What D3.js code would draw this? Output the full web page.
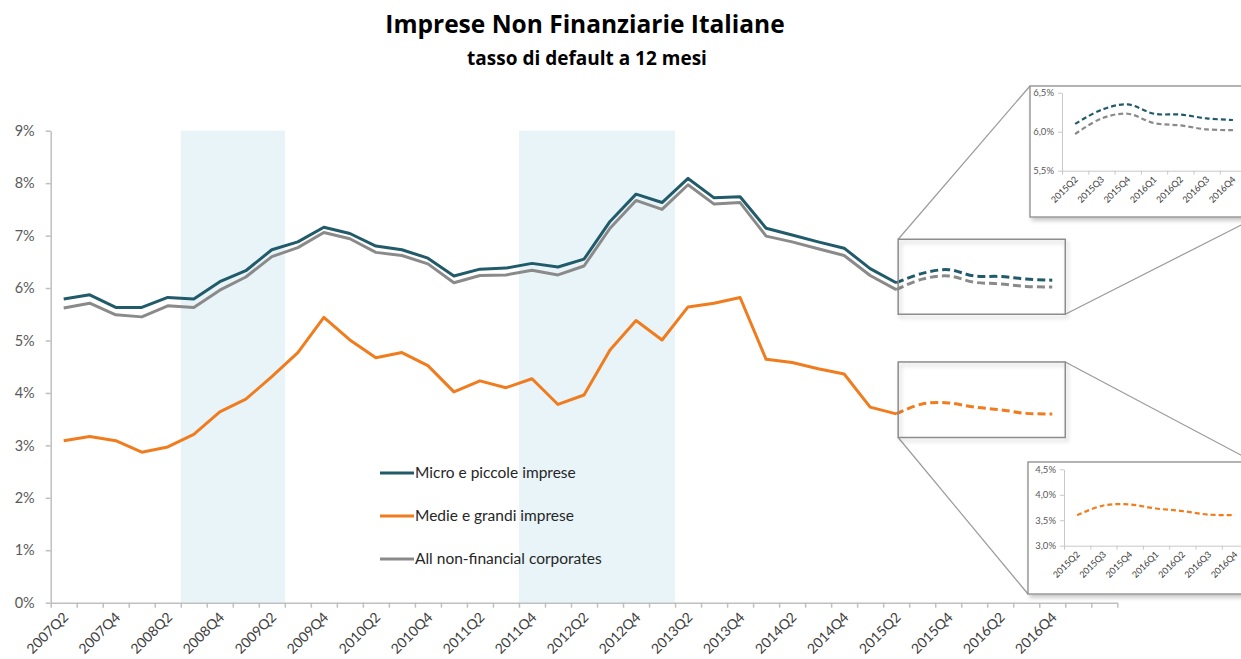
<!DOCTYPE html>
<html>
<head>
<meta charset="utf-8">
<script src="https://cdn.jsdelivr.net/npm/d3@7"></script>
<style>
  html, body { margin: 0; padding: 0; background: #fff; }
  svg { display: block; font-family: Lato, "Open Sans", sans-serif; }
</style>
</head>
<body>
<svg id="chart" width="1241" height="659"></svg>
<script>
// ---- data ----------------------------------------------------------------
// quarterly categories on the main axis (two trailing empty slots)
const quarters = [
  "2007Q2","2007Q3","2007Q4","2008Q1","2008Q2","2008Q3","2008Q4","2009Q1",
  "2009Q2","2009Q3","2009Q4","2010Q1","2010Q2","2010Q3","2010Q4","2011Q1",
  "2011Q2","2011Q3","2011Q4","2012Q1","2012Q2","2012Q3","2012Q4","2013Q1",
  "2013Q2","2013Q3","2013Q4","2014Q1","2014Q2","2014Q3","2014Q4","2015Q1",
  "2015Q2","2015Q3","2015Q4","2016Q1","2016Q2","2016Q3","2016Q4","",""
];

// observed 12-month default rates (%), 2007Q2 .. 2015Q2
const microObserved = [5.79,5.87,5.63,5.63,5.82,5.79,6.12,6.33,6.73,6.88,7.16,7.04,6.80,6.73,6.57,6.23,6.36,6.38,6.47,6.40,6.55,7.27,7.79,7.63,8.09,7.72,7.74,7.14,7.01,6.88,6.76,6.37,6.10];
const medieObserved = [3.09,3.17,3.09,2.87,2.97,3.21,3.64,3.88,4.31,4.77,5.44,5.01,4.67,4.77,4.52,4.02,4.23,4.10,4.27,3.78,3.96,4.82,5.38,5.01,5.64,5.71,5.82,4.64,4.58,4.46,4.36,3.73,3.60];
const allObserved   = [5.62,5.71,5.49,5.45,5.66,5.63,5.96,6.21,6.60,6.77,7.06,6.94,6.68,6.62,6.46,6.10,6.24,6.25,6.34,6.25,6.42,7.14,7.67,7.50,7.97,7.60,7.63,6.99,6.88,6.75,6.62,6.24,5.97];

// projections (%), 2015Q2 .. 2016Q4
const forecastQuarters = ["2015Q2","2015Q3","2015Q4","2016Q1","2016Q2","2016Q3","2016Q4"];
const microForecast = [6.10,6.28,6.35,6.23,6.22,6.17,6.15];
const medieForecast = [3.60,3.79,3.81,3.73,3.68,3.61,3.60];
const allForecast   = [5.97,6.17,6.23,6.11,6.08,6.03,6.02];

// shaded recession periods (first and last quarter covered)
const recessions = [["2008Q3","2009Q2"],["2011Q4","2013Q1"]];

// axis ticks
const yTicks = [0,1,2,3,4,5,6,7,8,9];
const insetTopTicks = [5.5,6.0,6.5];
const insetBottomTicks = [3.0,3.5,4.0,4.5];

const seriesNames = ["Micro e piccole imprese","Medie e grandi imprese","All non-financial corporates"];
const colors = { micro: "#215b6a", medie: "#f07c1e", all: "#8a8a8a" };

// ---- layout ---------------------------------------------------------------
const svg = d3.select("#chart");
const plot = { left: 50.7, right: 1117.3, top: 130.7, bottom: 602.7 };

const x = d3.scaleBand().domain(d3.range(quarters.length)).range([plot.left, plot.right]).padding(0);
const bw = x.bandwidth();
const cx = i => x(i) + bw / 2;
const y = d3.scaleLinear().domain([0, 9]).range([plot.bottom, plot.top]);
const forecastStart = quarters.indexOf(forecastQuarters[0]);

const defs = svg.append("defs");
const shadow = defs.append("filter").attr("id", "shadow")
  .attr("x", "-10%").attr("y", "-10%").attr("width", "130%").attr("height", "140%");
shadow.append("feDropShadow").attr("dx", 2).attr("dy", 3).attr("stdDeviation", 2.2)
  .attr("flood-color", "#000").attr("flood-opacity", 0.22);

// ---- titles -----------------------------------------------------------------
svg.append("text").attr("x", 585).attr("y", 33).attr("text-anchor", "middle")
  .attr("font-family", "'Open Sans', sans-serif")
  .attr("font-size", 24.5).attr("font-weight", 700).attr("fill", "#000")
  .text("Imprese Non Finanziarie Italiane");
svg.append("text").attr("x", 587).attr("y", 65).attr("text-anchor", "middle")
  .attr("font-family", "'Open Sans', sans-serif")
  .attr("font-size", 19).attr("font-weight", 700).attr("fill", "#000")
  .text("tasso di default a 12 mesi");

// ---- recession shading ------------------------------------------------------
svg.append("g").selectAll("rect").data(recessions).join("rect")
  .attr("x", d => x(quarters.indexOf(d[0])))
  .attr("width", d => x(quarters.indexOf(d[1])) + bw - x(quarters.indexOf(d[0])))
  .attr("y", plot.top).attr("height", plot.bottom - plot.top)
  .attr("fill", "#e8f4f8");

// ---- axes -------------------------------------------------------------------
const yAxis = svg.append("g").attr("transform", `translate(${plot.left},0)`)
  .call(d3.axisLeft(y).tickValues(yTicks).tickFormat(d => d + "%").tickSize(5).tickSizeOuter(0));
yAxis.select(".domain").attr("stroke", "#bfbfbf").attr("stroke-width", 1.5);
yAxis.selectAll(".tick line").attr("stroke", "#bfbfbf").attr("stroke-width", 1.5);
yAxis.selectAll(".tick text").attr("font-size", 14.5).attr("fill", "#595959")
  .attr("font-family", "Lato, sans-serif").attr("x", -16);

// boundary ticks between quarters
const xEdge = d3.scaleLinear().domain([0, quarters.length]).range([plot.left, plot.right]);
const xAxis = svg.append("g").attr("transform", `translate(0,${plot.bottom})`)
  .call(d3.axisBottom(xEdge).tickValues(d3.range(quarters.length + 1)).tickFormat("").tickSize(5).tickSizeOuter(0));
xAxis.select(".domain").attr("stroke", "#bfbfbf").attr("stroke-width", 1.5);
xAxis.selectAll(".tick line").attr("stroke", "#bfbfbf").attr("stroke-width", 1.5);

// every second quarter is labelled
svg.append("g").selectAll("text")
  .data(quarters.map((q, i) => ({ q, i })).filter(d => d.q && d.i % 2 === 0))
  .join("text")
  .attr("transform", d => `translate(${cx(d.i) + 2},${plot.bottom + 12}) rotate(-45)`)
  .attr("text-anchor", "end").attr("dy", "0.35em")
  .attr("font-size", 14).attr("fill", "#404040")
  .text(d => d.q);

// ---- series -----------------------------------------------------------------
const solid = d3.line().x((d, i) => cx(i)).y(d => y(d));
const smooth = d3.line().x((d, i) => cx(forecastStart + i)).y(d => y(d)).curve(d3.curveCatmullRom.alpha(0.5));

const series = [
  { key: "all",   obs: allObserved,   fc: allForecast },
  { key: "medie", obs: medieObserved, fc: medieForecast },
  { key: "micro", obs: microObserved, fc: microForecast }
];
const lines = svg.append("g").attr("fill", "none").attr("stroke-linejoin", "round");
series.forEach(s => {
  lines.append("path").attr("d", solid(s.obs)).attr("stroke", colors[s.key]).attr("stroke-width", 3);
  lines.append("path").attr("d", smooth(s.fc)).attr("stroke", colors[s.key]).attr("stroke-width", 3)
    .attr("stroke-dasharray", "8,4");
});

// ---- legend -----------------------------------------------------------------
const legend = svg.append("g");
[["micro", 473], ["medie", 516], ["all", 559]].forEach(([k, ly], i) => {
  legend.append("line").attr("x1", 380).attr("x2", 414).attr("y1", ly).attr("y2", ly)
    .attr("stroke", colors[k]).attr("stroke-width", 3);
  legend.append("text").attr("x", 415).attr("y", ly).attr("dy", "0.35em")
    .attr("font-size", 15.5).attr("fill", "#262626").text(seriesNames[i]);
});

// ---- zoom callouts ----------------------------------------------------------
const boxLeft = cx(forecastStart) + 2;
const boxRight = x(forecastStart + forecastQuarters.length - 1) + bw;
const callouts = [
  { lo: 5.5, hi: 6.93, inset: { x0: 1030, y0: 86, x1: 1257, y1: 217, axisX: 1062, top: 92.7, bottom: 170.7 },
    ticks: insetTopTicks, dom: [5.5, 6.5], keys: [["all", allForecast], ["micro", microForecast]],
    link: ["tl", "br"] },
  { lo: 3.15, hi: 4.59, inset: { x0: 1028, y0: 462, x1: 1254, y1: 594, axisX: 1064, top: 469.3, bottom: 545.7 },
    ticks: insetBottomTicks, dom: [3.0, 4.5], keys: [["medie", medieForecast]],
    link: ["bl", "tr"] }
];

callouts.forEach(c => {
  const b = { x0: boxLeft, x1: boxRight, y0: y(c.hi), y1: y(c.lo) };
  const corner = (r, k) => ({ tl: [r.x0, r.y0], tr: [r.x1, r.y0], bl: [r.x0, r.y1], br: [r.x1, r.y1] })[k];
  const g = svg.append("g");
  c.link.forEach(k => {
    const p = corner(b, k), q = corner(c.inset, k);
    g.append("line").attr("x1", p[0]).attr("y1", p[1]).attr("x2", q[0]).attr("y2", q[1])
      .attr("stroke", "#9a9a9a").attr("stroke-width", 1.2);
  });
  g.append("rect").attr("x", b.x0).attr("y", b.y0).attr("width", b.x1 - b.x0).attr("height", b.y1 - b.y0)
    .attr("fill", "none").attr("stroke", "#8c8c8c").attr("stroke-width", 1.5).attr("filter", "url(#shadow)");

  // inset chart
  const ins = c.inset;
  g.append("rect").attr("x", ins.x0).attr("y", ins.y0).attr("width", ins.x1 - ins.x0).attr("height", ins.y1 - ins.y0)
    .attr("fill", "#fff").attr("stroke", "#8c8c8c").attr("stroke-width", 1.3).attr("filter", "url(#shadow)");

  const ix = d3.scaleBand().domain(forecastQuarters).range([ins.axisX, ins.axisX + 26.3 * forecastQuarters.length]);
  const iy = d3.scaleLinear().domain(c.dom).range([ins.bottom, ins.top]);
  const fmt = d => d3.format(".1f")(d).replace(".", ",") + "%";

  const ya = g.append("g").attr("transform", `translate(${ins.axisX},0)`)
    .call(d3.axisLeft(iy).tickValues(c.ticks).tickFormat(fmt).tickSize(4).tickSizeOuter(0));
  ya.select(".domain").attr("stroke", "#c8c8c8");
  ya.selectAll(".tick line").attr("stroke", "#c8c8c8");
  ya.selectAll(".tick text").attr("font-size", 9.5).attr("fill", "#595959").attr("x", -8)
    .attr("font-family", "Lato, sans-serif");

  const edge = d3.scaleLinear().domain([0, forecastQuarters.length]).range(ix.range());
  const xa = g.append("g").attr("transform", `translate(0,${ins.bottom})`)
    .call(d3.axisBottom(edge).tickValues(d3.range(forecastQuarters.length + 1)).tickFormat("").tickSize(4).tickSizeOuter(0));
  xa.select(".domain").attr("stroke", "#c8c8c8");
  xa.selectAll(".tick line").attr("stroke", "#c8c8c8");
  g.append("g").selectAll("text").data(forecastQuarters).join("text")
    .attr("transform", d => `translate(${ix(d) + ix.bandwidth() / 2 + 1},${ins.bottom + 7}) rotate(-45)`)
    .attr("text-anchor", "end").attr("dy", "0.35em")
    .attr("font-size", 9).attr("fill", "#404040").text(d => d);

  const il = d3.line().x((d, i) => ix(forecastQuarters[i]) + ix.bandwidth() / 2).y(d => iy(d))
    .curve(d3.curveCatmullRom.alpha(0.5));
  c.keys.forEach(([k, vals]) => {
    g.append("path").attr("d", il(vals)).attr("fill", "none").attr("stroke", colors[k])
      .attr("stroke-width", 2.2).attr("stroke-dasharray", "5,3");
  });
});
</script>
</body>
</html>
